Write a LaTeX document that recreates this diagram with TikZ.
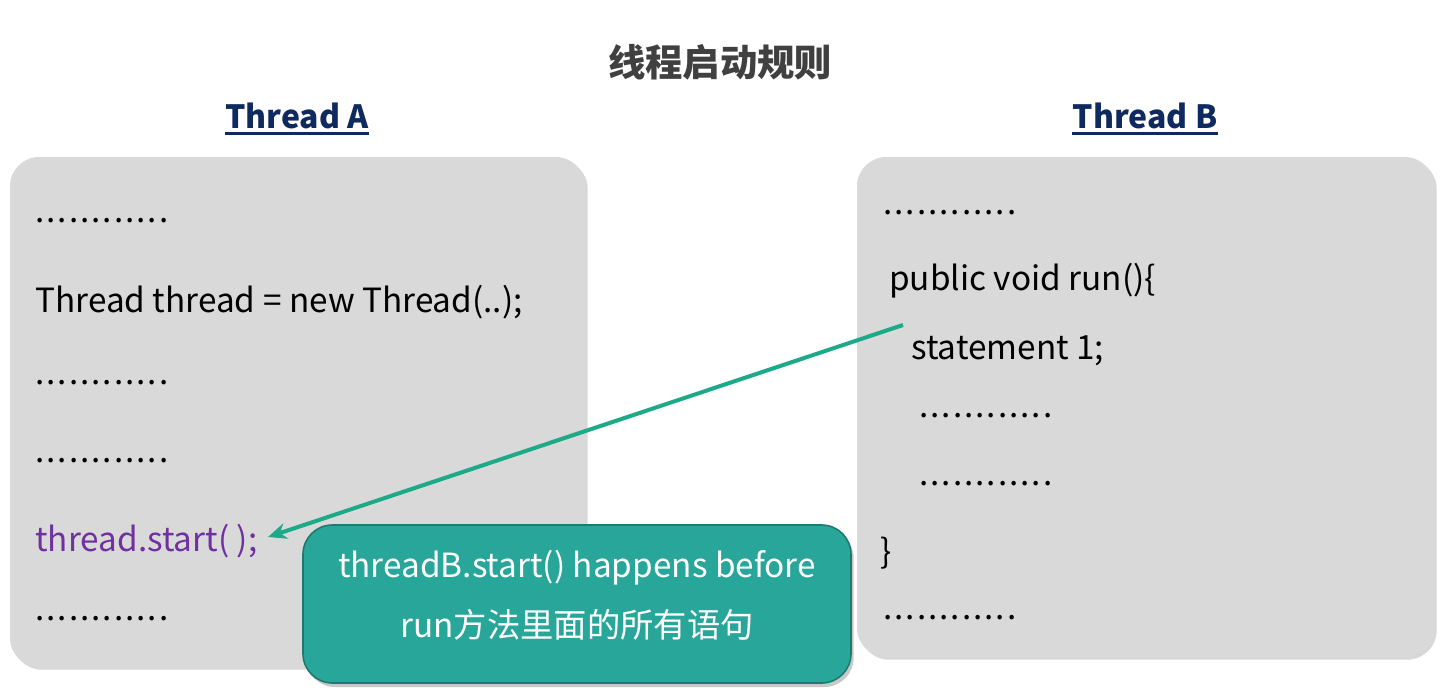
\documentclass[tikz,border=0pt]{standalone}
\usepackage{fontspec}
\setmainfont{Noto Sans CJK SC}
\usetikzlibrary{shadows,arrows.meta}
\definecolor{boxgray}{HTML}{D9D9D9}
\definecolor{titlegray}{HTML}{404040}
\definecolor{navy}{HTML}{0F2A5F}
\definecolor{purp}{HTML}{7030A0}
\definecolor{arrowgreen}{HTML}{1DAA88}
\definecolor{callfill}{HTML}{28A699}
\definecolor{callborder}{HTML}{1E7A70}
\newcommand{\mydots}{\makebox[8.45pt][l]{.}\makebox[8.45pt][l]{.}\makebox[8.45pt][l]{.}\makebox[8.45pt][l]{.}\makebox[8.45pt][l]{.}\makebox[8.45pt][l]{.}\makebox[8.45pt][l]{.}\makebox[8.45pt][l]{.}\makebox[8.45pt][l]{.}\makebox[8.45pt][l]{.}\makebox[8.45pt][l]{.}.}
\begin{document}
\begin{tikzpicture}[x=0.75pt,y=-0.75pt,
  panel/.style={fill=boxgray, rounded corners=22pt, inner sep=0,
    drop shadow={shadow xshift=2pt, shadow yshift=-2pt, opacity=0.25, fill=black!60}},
  code/.style={font=\fontsize{25}{29}\selectfont, anchor=base west, inner sep=0, text=black},
  heading/.style={font=\fontsize{24}{28}\selectfont\bfseries, text=navy, inner sep=0, anchor=base},
  callout/.style={fill=callfill, draw=callborder, line width=1.2pt, rounded corners=22pt,
    inner sep=0, drop shadow={shadow xshift=2pt, shadow yshift=-3pt, opacity=0.3, fill=black!70}},
  calltext/.style={font=\fontsize{25}{29}\selectfont, text=white, inner sep=0, anchor=base},
  link/.style={draw=arrowgreen, line width=3pt, -{Stealth[length=14pt,width=12pt]}}
]
\useasboundingbox (0,0) rectangle (1442,699);
\fill[white] (0,0) rectangle (1442,699);

% title
\node[font=\fontsize{28}{32}\selectfont\bfseries, text=titlegray, inner sep=0] (title) at (720,62) {线程启动规则};

% headings
\node[heading] (ta) at (297,128) {Thread A};
\node[heading] (tb) at (1145,128) {Thread B};
\draw[navy, line width=2.2pt] ([yshift=-4pt]ta.base west) -- ([yshift=-4pt]ta.base east);
\draw[navy, line width=2.2pt] ([yshift=-4pt]tb.base west) -- ([yshift=-4pt]tb.base east);

% panels
\node[panel, minimum width=431.25pt, minimum height=382.5pt] (panelA) at (297.5,412) {};
\node[panel, minimum width=432.75pt, minimum height=375pt] (panelB) at (1145.5,407) {};

% thread A code
\node[code] (a1) at (35,222) {\mydots};
\node[code] (a2) at (35,312) {Thread thread = new Thread(..);};
\node[code] (a3) at (35,384) {\mydots};
\node[code] (a4) at (35,462) {\mydots};
\node[code, text=purp] (tstart) at (35,551) {thread.start( );};
\node[code] (a6) at (35,620) {\mydots};

% thread B code
\node[code] (b1) at (883,214) {\mydots};
\node[code] (b2) at (889,290) {public void run()\{};
\node[code] (st1) at (911,359) {statement 1;};
\node[code] (b4) at (919,417) {\mydots};
\node[code] (b5) at (919,485) {\mydots};
\node[code] (b6) at (880,563) {\}};
\node[code] (b7) at (883,619) {\mydots};

% arrow
\coordinate (arrowstart) at (903,325);
\coordinate (arrowend) at (268,537);
\draw[link] (arrowstart) -- (arrowend);

% callout
\node[callout, minimum width=411pt, minimum height=118.5pt] (note) at (577,604) {};
\node[calltext] (n1) at (577,577) {threadB.start() happens before};
\node[calltext] (n2) at (577,637) {run方法里面的所有语句};
\end{tikzpicture}
\end{document}
